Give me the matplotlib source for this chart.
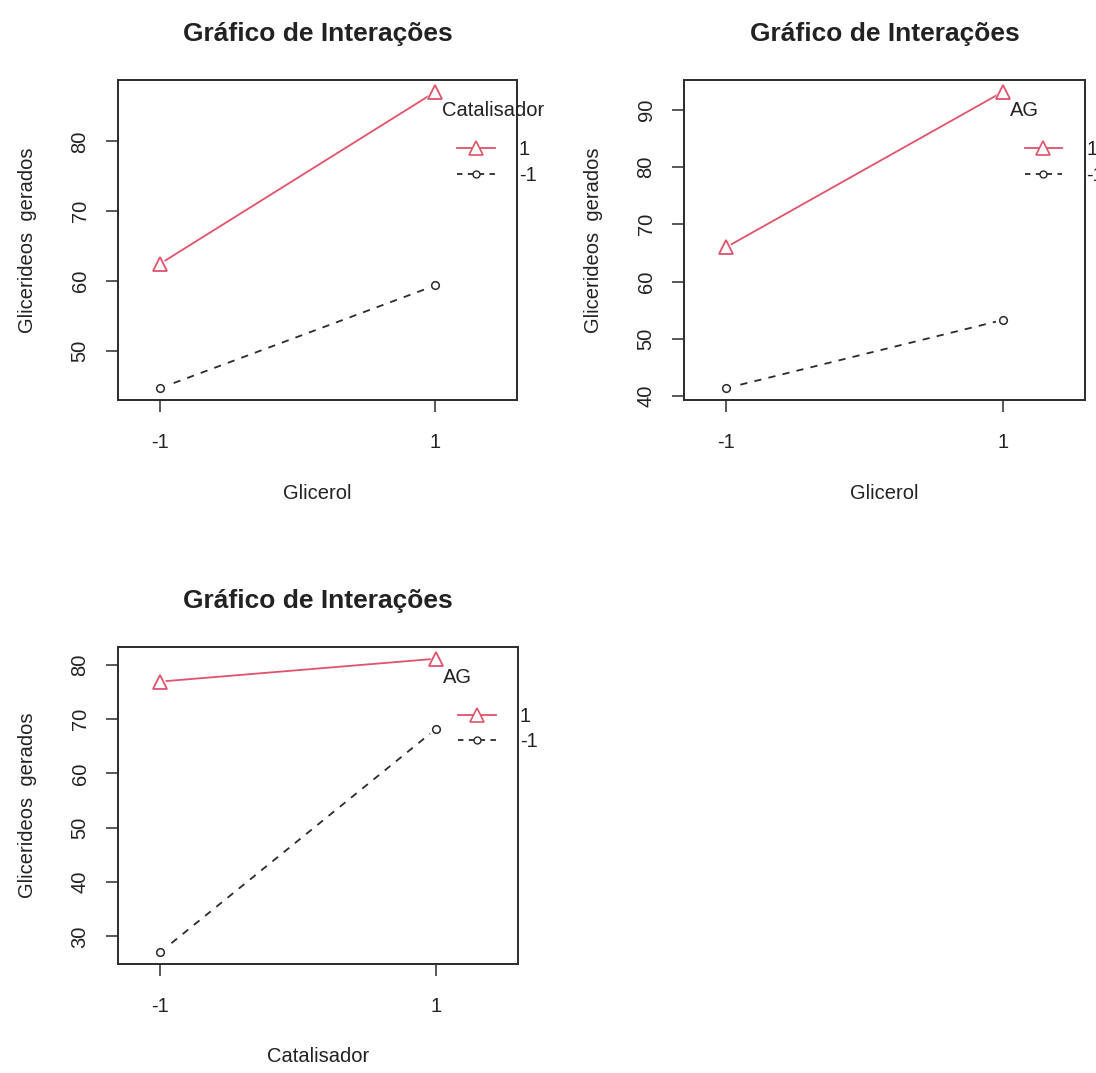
import matplotlib
matplotlib.use("Agg")
import matplotlib.pyplot as plt
from matplotlib.ticker import MultipleLocator
from matplotlib.lines import Line2D
from matplotlib.legend_handler import HandlerLine2D

plt.rcParams['font.family'] = ['Liberation Sans', 'DejaVu Sans']

# ---------------- data ----------------
levels = ["-1", "1"]
trace_labels = ["1", "-1"]
chart_title = "Gráfico de Interações"
y_label = "Glicerideos  gerados"

# panel 1: Glicerol x Catalisador
p1_xlabel = "Glicerol"
p1_trace = "Catalisador"
p1_hi = [62.5, 87.1]   # Catalisador = 1
p1_lo = [44.7, 59.4]   # Catalisador = -1

# panel 2: Glicerol x AG
p2_xlabel = "Glicerol"
p2_trace = "AG"
p2_hi = [66.0, 93.1]   # AG = 1
p2_lo = [41.4, 53.3]   # AG = -1

# panel 3: Catalisador x AG
p3_xlabel = "Catalisador"
p3_trace = "AG"
p3_hi = [76.9, 81.1]   # AG = 1
p3_lo = [27.1, 68.2]   # AG = -1

RED = "#DF536B"
DARK = "#2b2b2b"
TXT = "#222222"
FS = 14.5

W, H = 1096, 1073
fig = plt.figure(figsize=(W / 100, H / 100), dpi=100)
fig.patch.set_facecolor("white")


def px_axes(left, top, right, bottom):
    return fig.add_axes([left / W, 1 - bottom / H, (right - left) / W, (bottom - top) / H])


def draw_panel(ax, xlabel, trace, hi, lo):
    xs = list(range(len(levels)))
    ax.plot(xs, hi, color=RED, lw=1.3, zorder=2)
    ax.plot(xs, lo, color=DARK, lw=1.3, ls=(0, (4, 4)), zorder=2)
    # white under-markers emulate the gaps of R's type="b"
    ax.plot(xs, hi, ls="none", marker="^", ms=15, mfc="white", mec="white", zorder=3)
    ax.plot(xs, lo, ls="none", marker="o", ms=10, mfc="white", mec="white", zorder=3)
    ax.plot(xs, hi, ls="none", marker="^", ms=10.5, mfc="none", mec=RED, mew=1.3, zorder=4)
    ax.plot(xs, lo, ls="none", marker="o", ms=5.5, mfc="none", mec=DARK, mew=1.1, zorder=4)

    ax.set_xlim(-0.153, 1.297)
    ax.margins(y=0.04)
    ax.set_xticks(xs)
    ax.set_xticklabels(levels)
    ax.yaxis.set_major_locator(MultipleLocator(10))

    for sp in ax.spines.values():
        sp.set_color(DARK)
        sp.set_linewidth(1.4)
    ax.tick_params(axis="both", direction="out", length=8.5, width=1.1, color=DARK,
                   labelsize=FS, labelcolor=TXT)
    ax.tick_params(axis="x", pad=15.5)
    ax.tick_params(axis="y", pad=12, labelrotation=90)
    for t in ax.get_yticklabels():
        t.set_va("center")

    ax.set_title(chart_title, fontsize=19, fontweight="bold", color=TXT, pad=28)
    ax.set_xlabel(xlabel, fontsize=FS, color=TXT, va="center")
    ax.xaxis.set_label_coords(0.5, -0.291)
    ax.set_ylabel(y_label, fontsize=FS, color=TXT, va="center")
    ax.yaxis.set_label_coords(-0.226, 0.5)

    # legend title (R-style, left of the keys)
    ax.text(0.813, 0.905, trace, transform=ax.transAxes, fontsize=FS, color=TXT,
            ha="left", va="center", clip_on=False)
    handles = [
        Line2D([], [], color=RED, lw=1.3, marker="^", ms=9.5, mfc="white", mec=RED, mew=1.2),
        Line2D([], [], color=DARK, lw=1.3, ls=(0, (3, 3)), marker="o", ms=5, mfc="white", mec=DARK),
    ]
    leg = ax.legend(handles, trace_labels, loc="upper left",
                    bbox_to_anchor=(0.813, 0.812), frameon=False, fontsize=FS,
                    handlelength=2.6, handletextpad=1.2,
                    labelspacing=0.33, borderpad=0, borderaxespad=0,
                    handler_map={h: HandlerLine2D(xpad=0.72) for h in handles})
    for t in leg.get_texts():
        t.set_color(TXT)


ax1 = px_axes(118, 80, 517, 400)
draw_panel(ax1, p1_xlabel, p1_trace, p1_hi, p1_lo)

ax2 = px_axes(684, 80, 1085, 400)
draw_panel(ax2, p2_xlabel, p2_trace, p2_hi, p2_lo)

ax3 = px_axes(118, 647, 518, 964)
draw_panel(ax3, p3_xlabel, p3_trace, p3_hi, p3_lo)

fig.savefig("out.png", dpi=100, facecolor="white")
